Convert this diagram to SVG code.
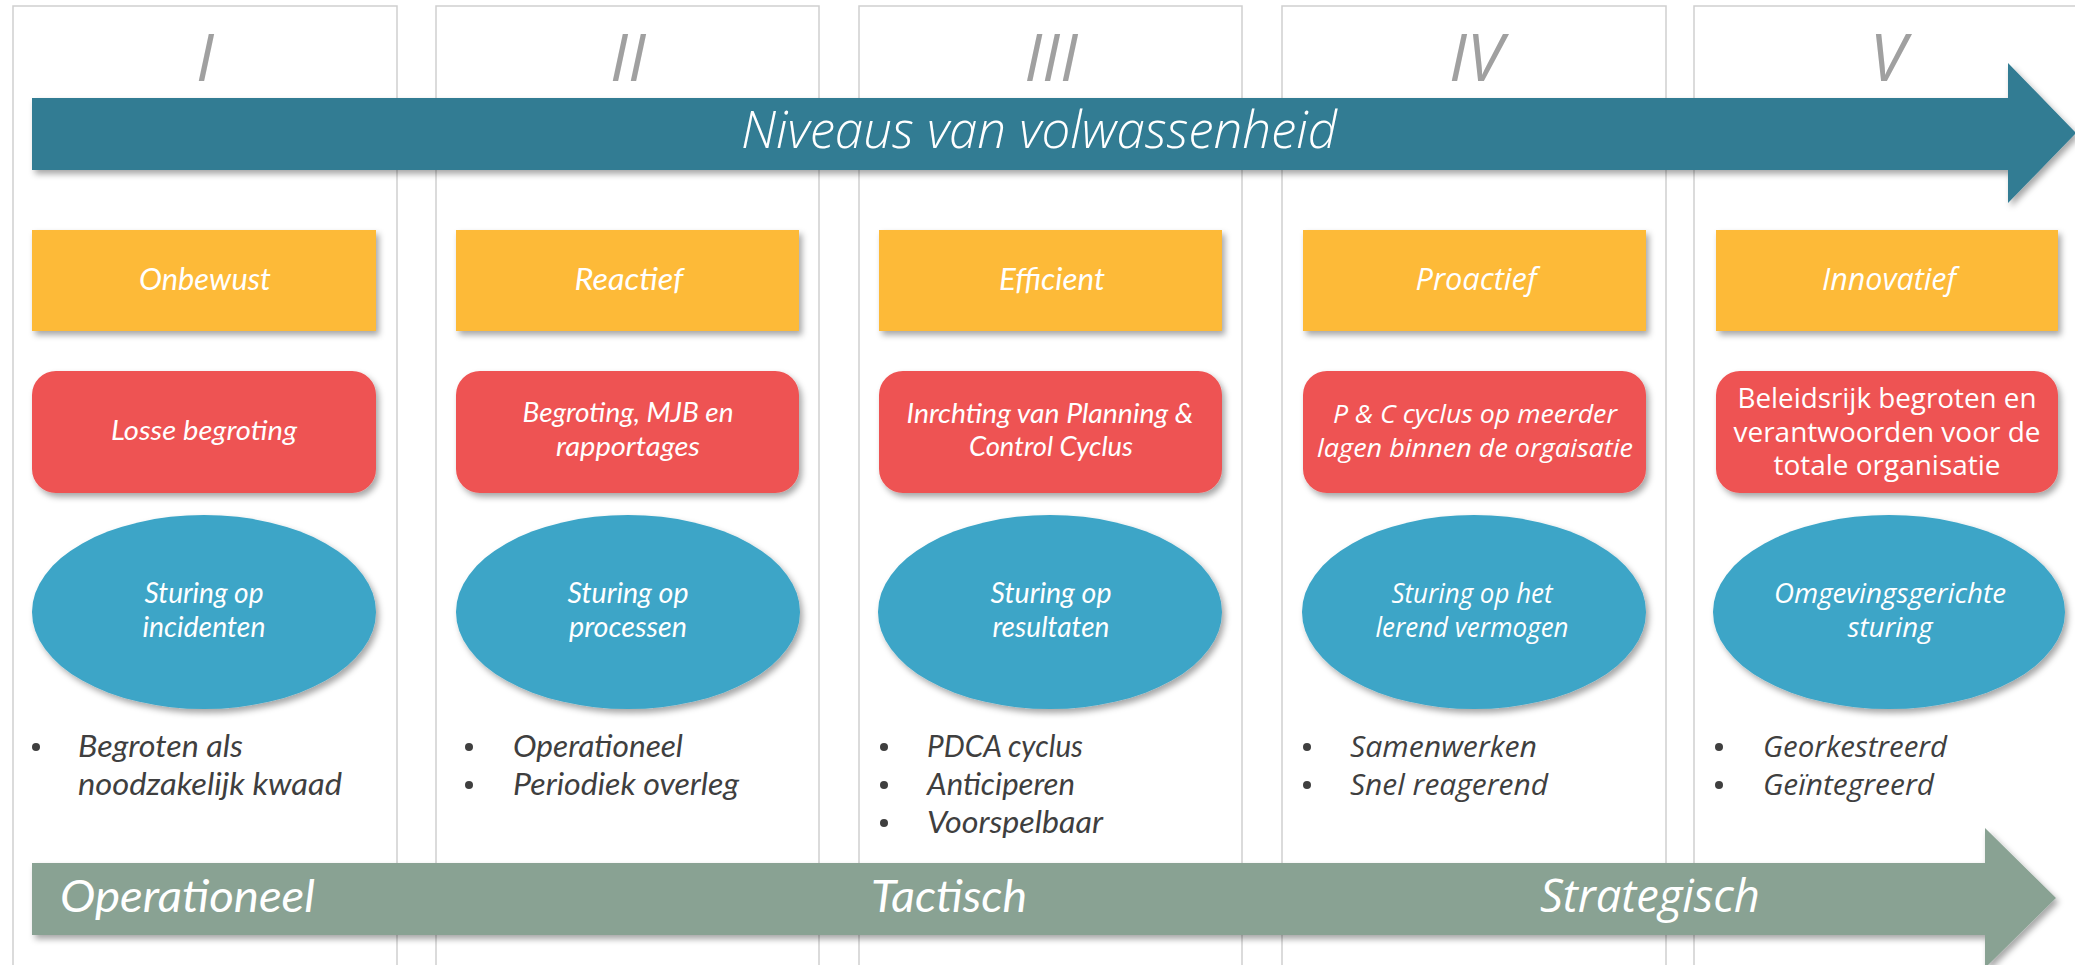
<svg xmlns="http://www.w3.org/2000/svg" width="2075" height="965" viewBox="0 0 2075 965">
<defs>
<filter id="sh" x="-10%" y="-20%" width="130%" height="150%">
<feDropShadow dx="3" dy="4" stdDeviation="3" flood-color="#000" flood-opacity="0.35"/>
</filter>
<style>
.col{fill:#fff;stroke:#cfcfcf;stroke-width:1.5}
.num{font-family:"Open Sans","DejaVu Sans",sans-serif;font-style:italic;font-weight:400;font-size:66px;fill:#a0a0a0;text-anchor:middle}
.org{fill:#fdba39}
.red{fill:#ee5252}
.ell{fill:#3da5c7}
.cal{font-family:Lato,"Open Sans",sans-serif;font-style:italic;font-weight:400}
.seg{font-family:"Open Sans","DejaVu Sans",sans-serif;font-style:italic;font-weight:400}
.reg{font-family:"Open Sans","DejaVu Sans",sans-serif;font-weight:400}
.w{fill:#fff;text-anchor:middle}
.t1{font-size:31px}
.t2{font-size:27px}
.t2s{font-size:25px}
.t3{font-size:28px}
.bl{fill:#3f3f3f;font-size:30px}
.dot{fill:#3f3f3f}
.big{font-size:45px;fill:#fff}
</style>
</defs>
<rect width="2075" height="965" fill="#fff"/>
<g id="columns">
<rect class="col" x="13" y="6" width="384" height="1000"/>
<rect class="col" x="436" y="6" width="383" height="1000"/>
<rect class="col" x="859" y="6" width="383" height="1000"/>
<rect class="col" x="1282" y="6" width="384" height="1000"/>
<rect class="col" x="1694" y="6" width="384" height="1000"/>
<text class="num" x="205" y="81">I</text>
<text class="num" x="628" y="81">II</text>
<text class="num" x="1051" y="81">III</text>
<text class="num" x="1476" y="81">IV</text>
<text class="num" x="1888" y="81">V</text>
</g>
<g id="arrows">
<g id="arrow-top" filter="url(#sh)">
<polygon points="32,98 2008,98 2008,63 2076,133 2008,203 2008,170 32,170" fill="#317c93"/>
<text class="seg" x="1039" y="148" font-size="52" fill="#fff" text-anchor="middle" textLength="596" lengthAdjust="spacingAndGlyphs" style="font-weight:300">Niveaus van volwassenheid</text>
</g>
</g>
<g id="col1">
<g id="n1-level"><rect class="org" x="32" y="230" width="344" height="101" filter="url(#sh)"/><text class="cal w t1" x="205" y="290" textLength="132" lengthAdjust="spacingAndGlyphs">Onbewust</text></g>
<g id="n1-budget"><rect class="red" x="32" y="371" width="344" height="122" rx="24" filter="url(#sh)"/><text class="cal w t2" x="204" y="440" textLength="186" lengthAdjust="spacingAndGlyphs">Losse begroting</text></g>
<g id="n1-steer"><ellipse class="ell" cx="204" cy="612" rx="172" ry="97" filter="url(#sh)"/><text class="cal w t3" x="204" y="603" textLength="119" lengthAdjust="spacingAndGlyphs">Sturing op</text><text class="cal w t3" x="204" y="637" textLength="123" lengthAdjust="spacingAndGlyphs">incidenten</text></g>
<g id="n1-bullets"><circle class="dot" cx="36" cy="747" r="4"/><text class="cal bl" x="78" y="757" textLength="165" lengthAdjust="spacingAndGlyphs">Begroten als</text><text class="cal bl" x="78" y="795" textLength="264" lengthAdjust="spacingAndGlyphs">noodzakelijk kwaad</text></g>
</g>
<g id="col2">
<g id="n2-level"><rect class="org" x="456" y="230" width="343" height="101" filter="url(#sh)"/><text class="cal w t1" x="629" y="290" textLength="109" lengthAdjust="spacingAndGlyphs">Reactief</text></g>
<g id="n2-budget"><rect class="red" x="456" y="371" width="343" height="122" rx="24" filter="url(#sh)"/><text class="cal w t2" x="628" y="422" textLength="211" lengthAdjust="spacingAndGlyphs">Begroting, MJB en</text><text class="cal w t2" x="628" y="456" textLength="144" lengthAdjust="spacingAndGlyphs">rapportages</text></g>
<g id="n2-steer"><ellipse class="ell" cx="628" cy="612" rx="172" ry="97" filter="url(#sh)"/><text class="cal w t3" x="628" y="603" textLength="121" lengthAdjust="spacingAndGlyphs">Sturing op</text><text class="cal w t3" x="628" y="637" textLength="118" lengthAdjust="spacingAndGlyphs">processen</text></g>
<g id="n2-bullets"><circle class="dot" cx="469" cy="747" r="4"/><circle class="dot" cx="469" cy="785" r="4"/><text class="cal bl" x="513" y="757" textLength="170" lengthAdjust="spacingAndGlyphs">Operationeel</text><text class="cal bl" x="513" y="795" textLength="226" lengthAdjust="spacingAndGlyphs">Periodiek overleg</text></g>
</g>
<g id="col3">
<g id="n3-level"><rect class="org" x="879" y="230" width="343" height="101" filter="url(#sh)"/><text class="cal w t1" x="1052" y="290" textLength="106" lengthAdjust="spacingAndGlyphs">Efficient</text></g>
<g id="n3-budget"><rect class="red" x="879" y="371" width="343" height="122" rx="24" filter="url(#sh)"/><text class="cal w t2" x="1050" y="423" textLength="287" lengthAdjust="spacingAndGlyphs">Inrchting van Planning &amp;</text><text class="cal w t2" x="1051" y="456" textLength="164" lengthAdjust="spacingAndGlyphs">Control Cyclus</text></g>
<g id="n3-steer"><ellipse class="ell" cx="1050" cy="612" rx="172" ry="97" filter="url(#sh)"/><text class="cal w t3" x="1051" y="603" textLength="121" lengthAdjust="spacingAndGlyphs">Sturing op</text><text class="cal w t3" x="1051" y="637" textLength="117" lengthAdjust="spacingAndGlyphs">resultaten</text></g>
<g id="n3-bullets"><circle class="dot" cx="884" cy="747" r="4"/><circle class="dot" cx="884" cy="785" r="4"/><circle class="dot" cx="884" cy="823" r="4"/><text class="cal bl" x="927" y="757" textLength="156" lengthAdjust="spacingAndGlyphs">PDCA cyclus</text><text class="cal bl" x="927" y="795" textLength="148" lengthAdjust="spacingAndGlyphs">Anticiperen</text><text class="cal bl" x="927" y="833" textLength="176" lengthAdjust="spacingAndGlyphs">Voorspelbaar</text></g>
</g>
<g id="col4">
<g id="n4-level"><rect class="org" x="1303" y="230" width="343" height="101" filter="url(#sh)"/><text class="seg w t1" x="1476" y="290" textLength="121" lengthAdjust="spacingAndGlyphs">Proactief</text></g>
<g id="n4-budget"><rect class="red" x="1303" y="371" width="343" height="122" rx="24" filter="url(#sh)"/><text class="seg w t2s" x="1475" y="423" textLength="284" lengthAdjust="spacingAndGlyphs">P &amp; C cyclus  op meerder</text><text class="seg w t2s" x="1475" y="457" textLength="316" lengthAdjust="spacingAndGlyphs">lagen  binnen de orgaisatie</text></g>
<g id="n4-steer"><ellipse class="ell" cx="1474" cy="612" rx="172" ry="97" filter="url(#sh)"/><text class="seg w t3" x="1472" y="603" textLength="161" lengthAdjust="spacingAndGlyphs">Sturing op het</text><text class="seg w t3" x="1472" y="637" textLength="193" lengthAdjust="spacingAndGlyphs">lerend vermogen</text></g>
<g id="n4-bullets"><circle class="dot" cx="1307" cy="747" r="4"/><circle class="dot" cx="1307" cy="785" r="4"/><text class="seg bl" x="1350" y="757" textLength="187" lengthAdjust="spacingAndGlyphs">Samenwerken</text><text class="seg bl" x="1350" y="795" textLength="198" lengthAdjust="spacingAndGlyphs">Snel reagerend</text></g>
</g>
<g id="col5">
<g id="n5-level"><rect class="org" x="1716" y="230" width="342" height="101" filter="url(#sh)"/><text class="seg w t1" x="1889" y="290" textLength="134" lengthAdjust="spacingAndGlyphs">Innovatief</text></g>
<g id="n5-budget"><rect class="red" x="1716" y="371" width="342" height="122" rx="24" filter="url(#sh)"/><text class="reg w" font-size="27" x="1887" y="408" textLength="299" lengthAdjust="spacingAndGlyphs">Beleidsrijk begroten en</text><text class="reg w" font-size="27" x="1887" y="442" textLength="307" lengthAdjust="spacingAndGlyphs">verantwoorden voor de</text><text class="reg w" font-size="27" x="1887" y="475" textLength="227" lengthAdjust="spacingAndGlyphs">totale organisatie</text></g>
<g id="n5-steer"><ellipse class="ell" cx="1889" cy="612" rx="176" ry="97" filter="url(#sh)"/><text class="seg w t3" x="1890" y="603" textLength="232" lengthAdjust="spacingAndGlyphs">Omgevingsgerichte</text><text class="seg w t3" x="1890" y="637" textLength="85" lengthAdjust="spacingAndGlyphs">sturing</text></g>
<g id="n5-bullets"><circle class="dot" cx="1719" cy="747" r="4"/><circle class="dot" cx="1719" cy="785" r="4"/><text class="seg bl" x="1763" y="757" textLength="184" lengthAdjust="spacingAndGlyphs">Georkestreerd</text><text class="seg bl" x="1763" y="795" textLength="171" lengthAdjust="spacingAndGlyphs">Geïntegreerd</text></g>
</g>
<g id="arrow-bottom">
<polygon points="32,863 1985,863 1985,828 2056,898 1985,968 1985,935 32,935" fill="#89a293" filter="url(#sh)"/>
<text class="cal big" x="60" y="912" textLength="255" lengthAdjust="spacingAndGlyphs">Operationeel</text>
<text class="cal big" x="871" y="912" textLength="156" lengthAdjust="spacingAndGlyphs">Tactisch</text>
<text class="seg big" x="1540" y="912" textLength="220" lengthAdjust="spacingAndGlyphs">Strategisch</text>
</g>
</svg>
